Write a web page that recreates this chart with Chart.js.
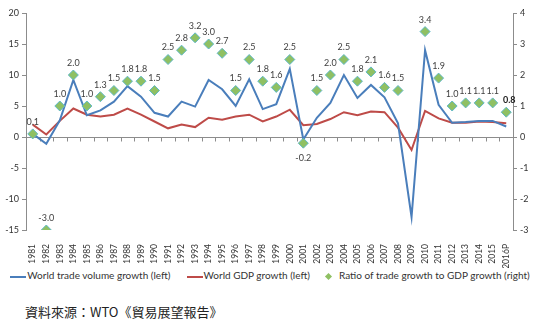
<!DOCTYPE html>
<html>
<head>
<meta charset="utf-8">
<script src="https://cdn.jsdelivr.net/npm/chart.js@4/dist/chart.umd.min.js"></script>
<style>
  body { margin: 0; background: #fff; }
  #wrap { position: relative; width: 540px; height: 324px; }
  #chart-box { position: absolute; left: 0; top: 0; width: 540px; height: 268px; }
  #legend { position: absolute; left: 0; top: 268px; width: 540px; text-align: center; line-height: 12px;
            font: 10px Lato, sans-serif; color: #333; white-space: nowrap; }
  #legend .item { display: inline-block; margin: 0 8px; vertical-align: middle; }
  #legend .line { display: inline-block; width: 16px; height: 2px; vertical-align: middle; margin-right: 1px; }
  #legend .dia { display: inline-block; width: 5px; height: 5px; transform: rotate(45deg);
                 vertical-align: middle; margin-right: 8px; }
  #source { position: absolute; left: 25px; top: 302px; line-height: 18px;
            font: 13px "Noto Sans CJK TC", sans-serif; color: #222; }
</style>
</head>
<body>
<div id="wrap">
  <div id="chart-box"><canvas id="trade-chart" width="540" height="268"></canvas></div>
  <div id="legend"></div>
  <div id="source">資料來源：WTO《貿易展望報告》</div>
</div>
<script>
// annees
var years = ['1981','1982','1983','1984','1985','1986','1987','1988','1989','1990',
             '1991','1992','1993','1994','1995','1996','1997','1998','1999','2000',
             '2001','2002','2003','2004','2005','2006','2007','2008','2009','2010',
             '2011','2012','2013','2014','2015','2016P'];

// axe gauche (%)
var tradeGrowth = [0.5, -1.1, 2.7, 9.2, 3.5, 4.3, 5.7, 8.2, 6.5, 3.9,
                   3.3, 5.7, 4.9, 9.2, 7.7, 5.0, 9.3, 4.5, 5.3, 11.0,
                   -0.4, 3.1, 5.5, 10.0, 6.3, 8.4, 6.4, 2.2, -12.9, 14.0,
                   5.2, 2.3, 2.4, 2.6, 2.6, 1.7];
var gdpGrowth = [2.0, 0.4, 2.6, 4.6, 3.6, 3.3, 3.6, 4.6, 3.6, 2.5,
                 1.4, 2.0, 1.6, 3.1, 2.8, 3.3, 3.6, 2.5, 3.3, 4.4,
                 1.9, 2.1, 2.9, 4.0, 3.5, 4.1, 4.0, 1.5, -2.1, 4.2,
                 3.0, 2.3, 2.3, 2.5, 2.4, 2.2];

// axe droit (ratio)
var ratio = [0.1, -3.0, 1.0, 2.0, 1.0, 1.3, 1.5, 1.8, 1.8, 1.5,
             2.5, 2.8, 3.2, 3.0, 2.7, 1.5, 2.5, 1.8, 1.6, 2.5,
             -0.2, 1.5, 2.0, 2.5, 1.8, 2.1, 1.6, 1.5, null, 3.4,
             1.9, 1.0, 1.1, 1.1, 1.1, 0.8];

var leftTicks = [-15, -10, -5, 0, 5, 10, 15, 20];
var rightTicks = [-3, -2, -1, 0, 1, 2, 3, 4];

var seriesNames = ['World trade volume growth (left)', 'World GDP growth (left)',
                   'Ratio of trade growth to GDP growth (right)'];

var BLUE = '#4a7ebb';
var RED = '#be4b48';
var GREEN = '#8fc063';
var AXIS = '#8c8c8c';

/**
 * ligne du zero + etiquettes des ratios
 */
var extras = {
    id: 'extras',
    beforeDatasetsDraw: function (chart) {
        var ctx = chart.ctx;
        var xs = chart.scales.x;
        var y0 = Math.round(chart.scales.y.getPixelForValue(0)) + 0.5;
        var n = years.length;
        ctx.save();
        ctx.strokeStyle = AXIS;
        ctx.lineWidth = 1;
        ctx.beginPath();
        ctx.moveTo(xs.left, y0);
        ctx.lineTo(xs.right, y0);
        for (var i = 0; i <= n; i++) {
            var x = Math.round(xs.left + i * xs.width / n) + 0.5;
            ctx.moveTo(x, y0);
            ctx.lineTo(x, y0 + 4);
        }
        ctx.stroke();
        ctx.restore();
    },
    afterDatasetsDraw: function (chart) {
        var ctx = chart.ctx;
        var meta = chart.getDatasetMeta(2);
        ctx.save();
        ctx.textAlign = 'center';
        ctx.textBaseline = 'middle';
        for (var i = 0; i < ratio.length; i++) {
            if (ratio[i] === null) continue;
            var pt = meta.data[i];
            var txt = ratio[i].toFixed(1);
            var dx = 0, dy = -12;
            ctx.font = '9px Lato, sans-serif';
            ctx.fillStyle = '#404040';
            if (ratio[i] < 0 && ratio[i] > -1) dy = 15;
            if (i === ratio.length - 1) {
                ctx.font = 'bold 9px Lato, sans-serif';
                ctx.fillStyle = '#222';
                dx = 3;
            }
            ctx.fillText(txt, pt.x + dx, pt.y + dy);
        }
        ctx.restore();
    }
};

var tickFont = {family: 'Lato, sans-serif', size: 9};

var ctx = document.getElementById('trade-chart').getContext('2d');
var chart = new Chart(ctx, {
    type: 'line',
    data: {
        labels: years,
        datasets: [{
            label: seriesNames[0],
            data: tradeGrowth,
            borderColor: BLUE,
            borderWidth: 2,
            pointRadius: 0,
            tension: 0,
            yAxisID: 'y',
            order: 1
        }, {
            label: seriesNames[1],
            data: gdpGrowth,
            borderColor: RED,
            borderWidth: 2,
            pointRadius: 0,
            tension: 0,
            yAxisID: 'y',
            order: 2
        }, {
            label: seriesNames[2],
            data: ratio,
            showLine: false,
            pointStyle: 'rectRot',
            pointRadius: 5,
            backgroundColor: GREEN,
            borderColor: '#5fb8c6',
            borderWidth: 1,
            yAxisID: 'y1',
            order: 0
        }]
    },
    options: {
        responsive: false,
        animation: false,
        layout: {padding: {top: 13, left: 0, right: 0, bottom: 0}},
        plugins: {
            legend: {display: false},
            tooltip: {enabled: false}
        },
        scales: {
            x: {
                offset: true,
                grid: {display: false},
                border: {display: false},
                ticks: {
                    autoSkip: false, minRotation: 90, maxRotation: 90,
                    font: {family: 'Lato, sans-serif', size: 8.5}, color: '#333', padding: 6
                },
                afterFit: function (s) { s.height = 38; }
            },
            y: {
                position: 'left',
                min: -15, max: 20,
                afterBuildTicks: function (s) {
                    s.ticks = leftTicks.map(function (v) { return {value: v}; });
                },
                grid: {drawOnChartArea: false, tickLength: 4, color: AXIS},
                border: {color: AXIS},
                ticks: {font: tickFont, color: '#333', padding: 3},
                afterFit: function (s) { s.width = 26; }
            },
            y1: {
                position: 'right',
                min: -3, max: 4,
                afterBuildTicks: function (s) {
                    s.ticks = rightTicks.map(function (v) { return {value: v}; });
                },
                grid: {drawOnChartArea: false, tickLength: 4, color: AXIS},
                border: {color: AXIS},
                ticks: {font: tickFont, color: '#333', padding: 3},
                afterFit: function (s) { s.width = 27; }
            }
        }
    },
    plugins: [extras]
});

// legende en html
var legendHtml = '';
var swatches = [
    '<span class="line" style="background:' + BLUE + '"></span>',
    '<span class="line" style="background:' + RED + '"></span>',
    '<span class="dia" style="background:' + GREEN + '"></span>'
];
for (var i = 0; i < seriesNames.length; i++) {
    legendHtml += '<span class="item">' + swatches[i] + seriesNames[i] + '</span>';
}
document.getElementById('legend').innerHTML = legendHtml;
</script>
</body>
</html>
